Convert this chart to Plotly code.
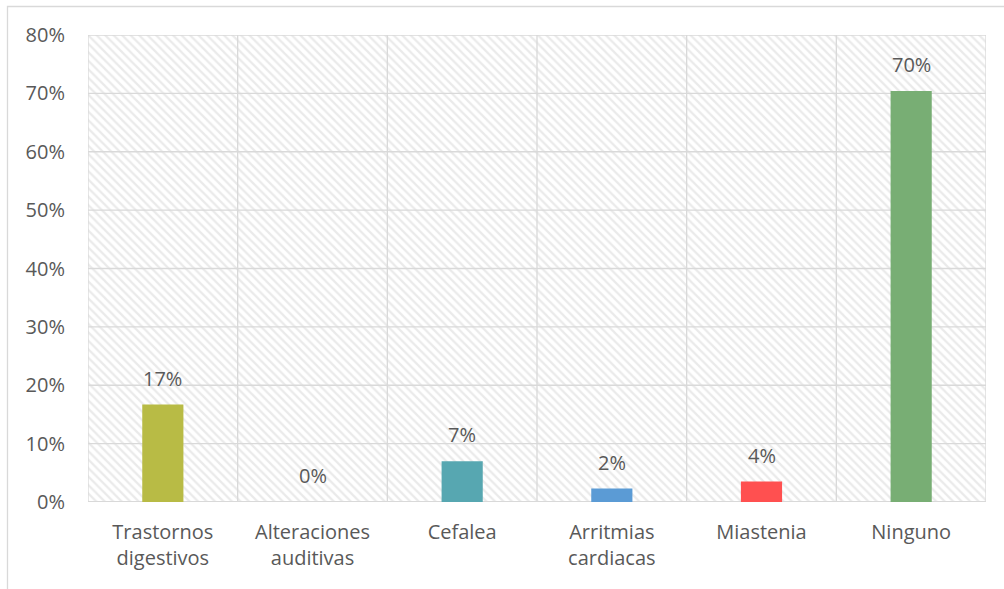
import plotly.graph_objects as go

categories = ["Trastornos<br>digestivos", "Alteraciones<br>auditivas", "Cefalea",
              "Arritmias<br>cardiacas", "Miastenia", "Ninguno"]
values = [16.7, 0.0, 7.0, 2.3, 3.5, 70.4]
labels = ["17%", "0%", "7%", "2%", "4%", "70%"]
colors = ["#B8BB45", "#5B9BD5", "#57A7B1", "#5B9BD5", "#FF5050", "#78AE74"]
y_ticks = [0, 10, 20, 30, 40, 50, 60, 70, 80]

n = len(categories)
xpos = list(range(n))
xmin, xmax = -0.5, n - 0.5
ymin, ymax = 0, 80
GRID = "#d9d9d9"
TEXT = "#595959"
FONT = "Open Sans"
FS = 20

fig = go.Figure()

# hatched plot-area background (base subplot)
fig.add_trace(go.Bar(
    x=[(xmin + xmax) / 2], y=[ymax], width=[xmax - xmin],
    marker=dict(color="white", line=dict(width=0),
                pattern=dict(shape="\\", fgcolor="#d6d6d6", bgcolor="white",
                             size=6, solidity=0.38)),
    hoverinfo="skip", showlegend=False, xaxis="x", yaxis="y"))

# gridlines (base subplot, above hatch)
hx, hy = [], []
for t in y_ticks:
    hx += [xmin, xmax, None]
    hy += [t, t, None]
fig.add_trace(go.Scatter(x=hx, y=hy, mode="lines", line=dict(color=GRID, width=1.3),
                         hoverinfo="skip", showlegend=False, cliponaxis=False,
                         xaxis="x", yaxis="y"))
vx, vy = [], []
for i in range(n + 1):
    xv = xmin + i
    vx += [xv, xv, None]
    vy += [ymin, ymax, None]
fig.add_trace(go.Scatter(x=vx, y=vy, mode="lines", line=dict(color=GRID, width=1.3),
                         hoverinfo="skip", showlegend=False, cliponaxis=False,
                         xaxis="x", yaxis="y"))
fig.add_trace(go.Scatter(x=[xmin, xmax], y=[ymin, ymin], mode="lines",
                         line=dict(color=GRID, width=2.2),
                         hoverinfo="skip", showlegend=False, cliponaxis=False,
                         xaxis="x", yaxis="y"))

# data bars (overlay subplot, above gridlines)
fig.add_trace(go.Bar(x=xpos, y=values, width=0.275,
                     marker=dict(color=colors, line=dict(width=0)),
                     hoverinfo="skip", showlegend=False, xaxis="x2", yaxis="y2"))

for xi, v, lab in zip(xpos, values, labels):
    fig.add_annotation(x=xi, y=v, xref="x2", yref="y2", text=lab, showarrow=False,
                       yanchor="bottom", yshift=11,
                       font=dict(family=FONT, size=FS, color=TEXT))

# outer chart border
W, H = 1004, 589
ml, mr, mt, mb = 88, 18, 35, 87
pw, ph = W - ml - mr, H - mt - mb
fig.add_shape(type="rect", xref="paper", yref="paper",
              x0=(7.5 - ml) / pw, x1=(W + 5 - ml) / pw,
              y0=-(mb + 10) / ph, y1=1 + (mt - 6.5) / ph,
              line=dict(color=GRID, width=1.3), fillcolor="rgba(0,0,0,0)", layer="below")

fig.update_layout(
    width=W, height=H,
    margin=dict(l=ml, r=mr, t=mt, b=mb),
    paper_bgcolor="white", plot_bgcolor="white",
    barmode="overlay",
    font=dict(family=FONT, size=FS, color=TEXT),
    xaxis=dict(range=[xmin, xmax], tickmode="array", tickvals=xpos, ticktext=categories,
               showgrid=False, zeroline=False, showline=False, ticks="",
               ticklabelstandoff=16, tickfont=dict(family=FONT, size=FS, color=TEXT)),
    yaxis=dict(range=[ymin, ymax], tickmode="array", tickvals=y_ticks,
               ticktext=[f"{t}%" for t in y_ticks],
               showgrid=False, zeroline=False, showline=False, ticks="",
               ticklabelstandoff=22, tickfont=dict(family=FONT, size=FS, color=TEXT)),
    xaxis2=dict(range=[xmin, xmax], overlaying="x", visible=False),
    yaxis2=dict(range=[ymin, ymax], overlaying="y", visible=False),
    showlegend=False,
)

fig.write_html("out.html")
